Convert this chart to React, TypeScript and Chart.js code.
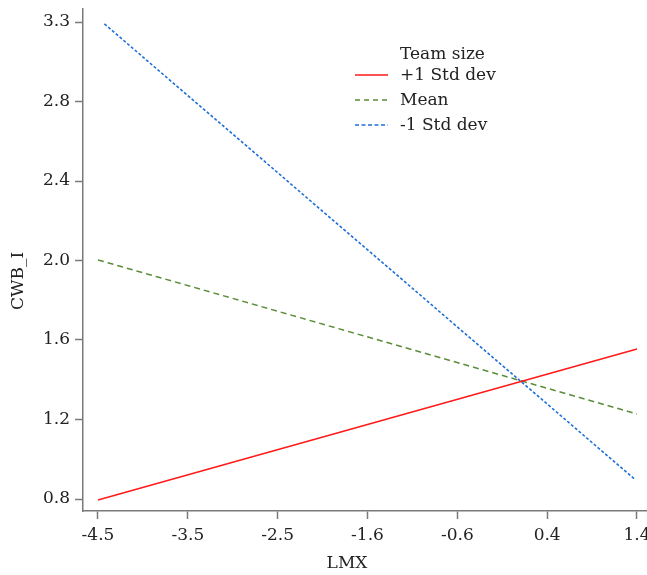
import React, { useEffect, useRef } from "react";
import { Chart, registerables } from "chart.js";

Chart.register(...registerables);

// ---- data ----
const xTitle = "LMX";
const yTitle = "CWB_I";
const legendTitle = "Team size";

const seriesLabels = ["+1 Std dev", "Mean", "-1 Std dev"];

const plusX = [-4.5, 1.38];
const plusY = [0.795, 1.57];

const meanX = [-4.5, 1.38];
const meanY = [2.028, 1.237];

const minusX = [-4.43, 1.36];
const minusY = [3.24, 0.9];

const xTickValues = [-4.5, -3.52, -2.54, -1.56, -0.58, 0.4, 1.38];
const xTickLabels = ["-4.5", "-3.5", "-2.5", "-1.6", "-0.6", "0.4", "1.4"];
const yTickValues = [0.8, 1.2083, 1.6167, 2.025, 2.4333, 2.8417, 3.25];
const yTickLabels = ["0.8", "1.2", "1.6", "2.0", "2.4", "2.8", "3.3"];

const X_MIN = -4.6636;
const X_MAX = 1.4891;
const Y_MIN = 0.7384;
const Y_MAX = 3.3168;

const FONT_FAMILY = '"DejaVu Serif", serif';
const FONT_SIZE = 17;
const TEXT_COLOR = "#222222";
const AXIS_COLOR = "#7a7a7a";

const pts = (xs: number[], ys: number[]) => xs.map((x, i) => ({ x, y: ys[i] }));

const overlayPlugin = {
  id: "overlay",
  afterDraw(chart: any) {
    const ctx = chart.ctx as CanvasRenderingContext2D;
    ctx.save();
    ctx.font = `${FONT_SIZE}px ${FONT_FAMILY}`;
    ctx.fillStyle = TEXT_COLOR;
    ctx.textAlign = "center";
    ctx.textBaseline = "middle";
    // x title
    ctx.fillText(xTitle, 347, 564);
    // y title
    ctx.save();
    ctx.translate(19, 281);
    ctx.rotate(-Math.PI / 2);
    ctx.fillText(yTitle, 0, 0);
    ctx.restore();

    // legend
    ctx.textAlign = "left";
    ctx.fillText(legendTitle, 400, 55);
    chart.data.datasets.forEach((ds: any, i: number) => {
      const y = 75 + i * 25;
      ctx.save();
      ctx.strokeStyle = ds.borderColor;
      ctx.lineWidth = ds.borderWidth;
      ctx.setLineDash(ds.legendDash || []);
      ctx.beginPath();
      ctx.moveTo(355, y);
      ctx.lineTo(388, y);
      ctx.stroke();
      ctx.restore();
      ctx.fillStyle = TEXT_COLOR;
      ctx.fillText(ds.label, 400, y + 1);
    });
    ctx.restore();
  },
};

export default function App() {
  const ref = useRef<HTMLCanvasElement | null>(null);

  useEffect(() => {
    if (!ref.current) return;
    const chart = new Chart(ref.current, {
      type: "line",
      data: {
        datasets: [
          {
            label: seriesLabels[0],
            data: pts(plusX, plusY),
            borderColor: "#ff1a1a",
            borderWidth: 1.6,
            pointRadius: 0,
            fill: false,
            legendDash: [],
          } as any,
          {
            label: seriesLabels[1],
            data: pts(meanX, meanY),
            borderColor: "#5a8c3a",
            borderWidth: 1.5,
            borderDash: [6, 4],
            pointRadius: 0,
            fill: false,
            legendDash: [5, 4],
          } as any,
          {
            label: seriesLabels[2],
            data: pts(minusX, minusY),
            borderColor: "#1f6fd8",
            borderWidth: 1.6,
            borderDash: [3, 2],
            pointRadius: 0,
            fill: false,
            legendDash: [4, 2.5],
          } as any,
        ],
      },
      options: {
        animation: false,
        responsive: true,
        maintainAspectRatio: false,
        layout: { padding: { top: 9, left: 0, right: 0, bottom: 0 } },
        plugins: {
          legend: { display: false },
          tooltip: { enabled: false },
          title: { display: false },
        },
        scales: {
          x: {
            type: "linear",
            min: X_MIN,
            max: X_MAX,
            afterBuildTicks: (s: any) => {
              s.ticks = xTickValues.map((v) => ({ value: v }));
            },
            afterFit: (s: any) => {
              s.height = 64;
              s.paddingLeft = 0;
              s.paddingRight = 0;
            },
            ticks: {
              autoSkip: false,
              maxRotation: 0,
              padding: 6,
              color: TEXT_COLOR,
              font: { family: FONT_FAMILY, size: FONT_SIZE },
              callback: (_v: any, i: number) => xTickLabels[i],
            },
            grid: {
              display: true,
              drawOnChartArea: false,
              drawTicks: true,
              tickLength: 8,
              tickWidth: 1.5,
              color: AXIS_COLOR,
            },
            border: { display: true, color: AXIS_COLOR, width: 1.5 },
          },
          y: {
            type: "linear",
            min: Y_MIN,
            max: Y_MAX,
            afterBuildTicks: (s: any) => {
              s.ticks = yTickValues.map((v) => ({ value: v }));
            },
            afterFit: (s: any) => {
              s.width = 83;
              s.paddingTop = 0;
              s.paddingBottom = 0;
            },
            ticks: {
              autoSkip: false,
              padding: 5,
              color: TEXT_COLOR,
              font: { family: FONT_FAMILY, size: FONT_SIZE },
              callback: (_v: any, i: number) => yTickLabels[i],
            },
            grid: {
              display: true,
              drawOnChartArea: false,
              drawTicks: true,
              tickLength: 8,
              tickWidth: 1.5,
              color: AXIS_COLOR,
            },
            border: { display: true, color: AXIS_COLOR, width: 1.5 },
          },
        },
      } as any,
      plugins: [overlayPlugin],
    });
    return () => chart.destroy();
  }, []);

  return (
    <div style={{ position: "fixed", left: 0, top: 0, width: 647, height: 575, background: "#fff" }}>
      <canvas ref={ref} />
    </div>
  );
}
